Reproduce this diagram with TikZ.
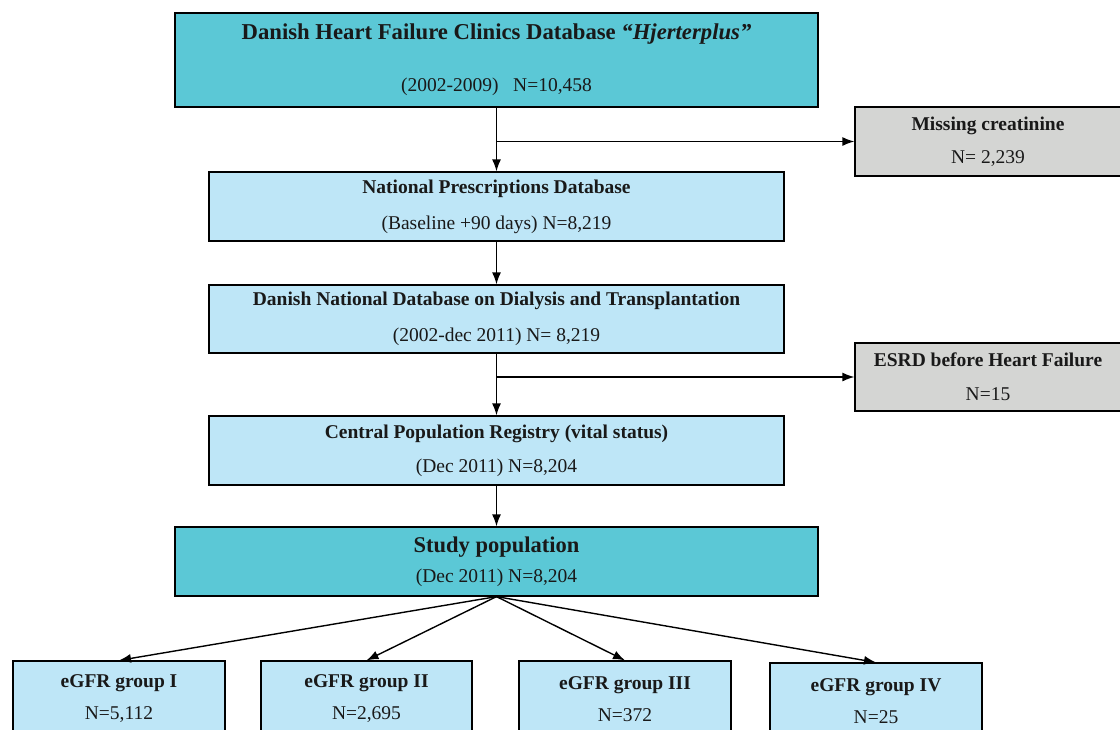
\documentclass[tikz,border=0pt]{standalone}
\usepackage{fontspec}
\setmainfont{Liberation Serif}
\usetikzlibrary{arrows.meta}
\definecolor{teal1}{HTML}{5BC8D6}
\definecolor{lblue}{HTML}{BEE6F7}
\definecolor{lgrey}{HTML}{D4D5D3}
\tikzset{
  box/.style={draw=black, line width=1.2pt, inner sep=0pt, align=center, text=black!90,
    font=\fontsize{19.5pt}{23pt}\selectfont},
  tealbox/.style={box, fill=teal1},
  bluebox/.style={box, fill=lblue},
  greybox/.style={box, fill=lgrey},
  link/.style={line width=1.4pt, -{Latex[length=12pt,width=9pt]}}
}
\begin{document}
\begin{tikzpicture}[x=1pt, y=-1pt]
\clip (0, 0) rectangle (1120, 729);
\fill [white] (0, 0) rectangle (1120, 729);

\node (hf) at (496.5, 60) [tealbox, minimum width=643, minimum height=94] {{\fontsize{22.7pt}{26pt}\selectfont\textbf{Danish Heart Failure Clinics Database \textit{``Hjerterplus''}}}\\[29pt] (2002-2009)\ \ \ N=10,458};
\node (miss) at (988, 141.5) [greybox, minimum width=266, minimum height=69] {\textbf{Missing creatinine}\\[10pt] N= 2,239};

\node (nat) at (496.5, 206.5) [bluebox, minimum width=575, minimum height=69] {\textbf{National Prescriptions Database}\\[13pt] (Baseline +90 days) N=8,219};
\node (dial) at (496.5, 319) [bluebox, minimum width=575, minimum height=68] {\textbf{Danish National Database on Dialysis and Transplantation}\\[13pt] (2002-dec 2011) N= 8,219};
\node (esrd) at (988, 377) [greybox, minimum width=266, minimum height=68] {\textbf{ESRD before Heart Failure}\\[11pt] N=15};
\node (cpr) at (496.5, 450.5) [bluebox, minimum width=575, minimum height=69] {\textbf{Central Population Registry (vital status)}\\[11pt] (Dec 2011) N=8,204};

\node (study) at (496.5, 561.5) [tealbox, minimum width=643, minimum height=69] {{\fontsize{22.5pt}{25pt}\selectfont\textbf{Study population}}\\[7pt] (Dec 2011) N=8,204};

\node (g1) at (119, 699) [bluebox, minimum width=212, minimum height=76] {\textbf{eGFR group I}\\[9pt] N=5,112};
\node (g2) at (366.5, 699) [bluebox, minimum width=211, minimum height=76] {\textbf{eGFR group II}\\[9pt] N=2,695};
\node (g3) at (625, 699) [bluebox, minimum width=212, minimum height=76] {\textbf{eGFR group III}\\[9pt] N=372};
\node (g4) at (876, 701) [bluebox, minimum width=212, minimum height=76] {\textbf{eGFR group IV}\\[9pt] N=25};

\coordinate (b1) at (496.5, 141.5);
\coordinate (b2) at (496.5, 377);

\draw [link] (hf.south) -- (nat.north);
\draw [link] (b1) -- (miss.west);
\draw [link] (nat.south) -- (dial.north);
\draw [link] (dial.south) -- (cpr.north);
\draw [link] (b2) -- (esrd.west);
\draw [link] (cpr.south) -- (study.north);
\draw [link] (study.south) -- (g1.north);
\draw [link] (study.south) -- (g2.north);
\draw [link] (study.south) -- (g3.north);
\draw [link] (study.south) -- (g4.north);
\end{tikzpicture}
\end{document}
